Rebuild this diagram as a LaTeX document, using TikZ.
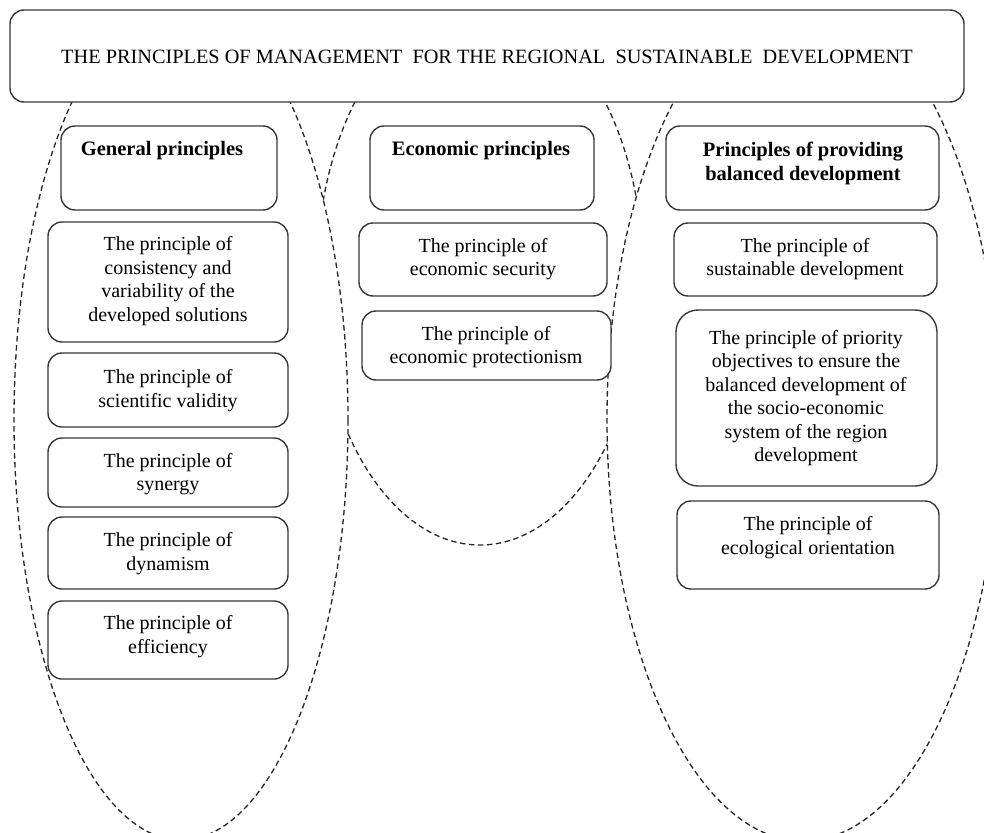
\documentclass[tikz,border=0pt]{standalone}
\usepackage{fontspec}
\setmainfont{Liberation Serif}
\begin{document}
\begin{tikzpicture}[x=1pt,y=-1pt,
  ell/.style={draw=black!85, line width=1.3pt, dash pattern=on 5.5pt off 3.5pt, fill=white},
  pbox/.style={draw=black!78, line width=1.4pt, rounded corners=14pt, fill=white, inner sep=0pt},
  txt/.style={align=center, inner sep=0pt, text=black, font=\fontsize{20}{23.5}\selectfont},
  btxt/.style={align=center, inner sep=0pt, text=black, font=\fontsize{20.5}{23.5}\selectfont\bfseries},
  ttxt/.style={align=center, inner sep=0pt, text=black, font=\fontsize{20.3}{24}\selectfont}]
\clip (0,0) rectangle (984,832);
\fill[white] (0,0) rectangle (984,832);
% dashed ellipses (middle one first, the side ones cover it)
\begin{scope}
\clip (0,40) rectangle (984,832);
\draw[ell] (480,275) ellipse [x radius=163, y radius=270];
\draw[ell] (181,420) ellipse [x radius=167, y radius=420];
\draw[ell] (803,419) ellipse [x radius=196, y radius=422];
\end{scope}
% top box
\node[pbox, minimum width=954pt, minimum height=92pt] (top) at (487,56) {};
\node[ttxt] (topt) at (487,57) {THE PRINCIPLES OF MANAGEMENT\ \ FOR THE REGIONAL\ \ SUSTAINABLE\ \ DEVELOPMENT};
% left column
\node[pbox, minimum width=216pt, minimum height=84pt] (g1) at (169,168) {};
\node[pbox, minimum width=240pt, minimum height=120pt] (g2) at (168,282) {};
\node[pbox, minimum width=240pt, minimum height=74pt] (g3) at (168,390) {};
\node[pbox, minimum width=240pt, minimum height=69pt] (g4) at (168,472.5) {};
\node[pbox, minimum width=240pt, minimum height=72pt] (g5) at (168,553) {};
\node[pbox, minimum width=240pt, minimum height=78pt] (g6) at (168,640) {};
\node[btxt] (g1t) at (162,151) {General principles};
\node[txt] (g2t) at (168,281) {The principle of\\consistency and\\variability of the\\developed solutions};
\node[txt] (g3t) at (168,390.5) {The principle of\\scientific validity};
\node[txt] (g4t) at (168,474) {The principle of\\synergy};
\node[txt] (g5t) at (168,553.5) {The principle of\\dynamism};
\node[txt] (g6t) at (168,636.5) {The principle of\\efficiency};
% middle column
\node[pbox, minimum width=224pt, minimum height=84pt] (e1) at (482,168) {};
\node[pbox, minimum width=248pt, minimum height=73pt] (e2) at (483,259.5) {};
\node[pbox, minimum width=249pt, minimum height=69pt] (e3) at (486.5,345.5) {};
\node[btxt] (e1t) at (481,151) {Economic principles};
\node[txt] (e2t) at (483,259) {The principle of\\economic security};
\node[txt] (e3t) at (486,347) {The principle of\\economic protectionism};
% right column
\node[pbox, minimum width=273pt, minimum height=84pt] (b1) at (802.5,168) {};
\node[pbox, minimum width=263pt, minimum height=73pt] (b2) at (805.5,259.5) {};
\node[pbox, minimum width=261pt, minimum height=176pt, rounded corners=22pt] (b3) at (806.5,398) {};
\node[pbox, minimum width=262pt, minimum height=88pt] (b4) at (808,545) {};
\node[btxt] (b1t) at (803,163.5) {Principles of providing\\balanced development};
\node[txt] (b2t) at (805,259) {The principle of\\sustainable development};
\node[txt] (b3t) at (806,398) {The principle of priority\\objectives to ensure the\\balanced development of\\the socio-economic\\system of the region\\development};
\node[txt] (b4t) at (808,537.5) {The principle of\\ecological orientation};
\end{tikzpicture}
\end{document}
